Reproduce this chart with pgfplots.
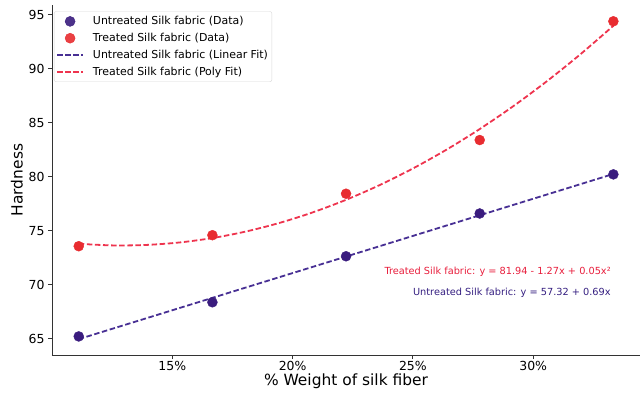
\documentclass[border=0pt]{standalone}
\usepackage{pgfplots}
\pgfplotsset{compat=1.18}
\usepackage{fontspec}
\setmainfont{DejaVu Sans}
\definecolor{pmark}{RGB}{58,28,126}
\definecolor{rmark}{RGB}{232,44,48}
\definecolor{pline}{RGB}{72,48,148}
\definecolor{rline}{RGB}{238,52,78}
\definecolor{ptext}{RGB}{52,30,128}
\definecolor{rtext}{RGB}{232,30,60}
\pgfplotsset{
  scatleg/.style={legend image code/.code={\draw[##1, only marks] plot coordinates {(13bp,0)};}},
  lineleg/.style={legend image code/.code={\draw[##1] (0,0) -- (26bp,0);}},
}
\begin{document}
\begin{tikzpicture}
\useasboundingbox (-52bp,-43bp) rectangle (592bp,355bp);
\begin{axis}[
  at={(0,0)}, anchor=south west,
  scale only axis, width=588bp, height=350bp,
  xmin=10, xmax=34.44, ymin=63.5, ymax=95.9,
  axis x line*=bottom, axis y line*=left,
  axis line style={black!80, line width=0.9bp},
  tick align=outside, major tick length=4bp,
  tick style={black!80, line width=0.8bp},
  xtick={15,20,25,30}, xticklabels={15\%,20\%,25\%,30\%},
  ytick={65,70,75,80,85,90,95},
  /pgf/number format/assume math mode=true,
  ticklabel style={font=\fontsize{12.5}{14}\selectfont},
  xticklabel style={yshift=1bp},
  xlabel={\% Weight of silk fiber}, ylabel={Hardness},
  label style={font=\fontsize{15.5}{17}\selectfont},
  xlabel style={yshift=4bp},
  ylabel style={yshift=-1bp},
  legend cell align=left,
  legend style={at={(0.0034,0.982)}, anchor=north west, draw=black!15, rounded corners=2bp,
    fill=white, fill opacity=0.9, text opacity=1, font=\fontsize{11}{13}\selectfont,
    row sep=3bp, inner xsep=2bp, inner ysep=3bp,
    /tikz/every odd column/.append style={column sep=7bp}},
]
\addplot[only marks, mark=*, mark size=5bp, color=pmark, scatleg]
 coordinates {(11.111,65.22) (16.667,68.38) (22.222,72.64) (27.778,76.60) (33.333,80.22)};
\addlegendentry{Untreated Silk fabric (Data)}
\addplot[only marks, mark=*, mark size=5bp, color=rmark, scatleg]
 coordinates {(11.111,73.57) (16.667,74.59) (22.222,78.43) (27.778,83.40) (33.333,94.39)};
\addlegendentry{Treated Silk fabric (Data)}
\addplot[no marks, color=pline, line width=1.8bp, dash pattern=on 5.5bp off 2.6bp, lineleg]
 coordinates {(11.111,64.968) (33.333,80.256)};
\addlegendentry{Untreated Silk fabric (Linear Fit)}
\addplot[no marks, smooth, color=rline, line width=1.8bp, dash pattern=on 5.5bp off 2.6bp, lineleg]
 coordinates {(11.111,73.796) (12.500,73.646) (13.889,73.685) (15.278,73.912) (16.667,74.326)
 (18.056,74.929) (19.444,75.720) (20.833,76.699) (22.222,77.866) (23.611,79.221) (25.000,80.765)
 (26.389,82.497) (27.778,84.416) (29.167,86.524) (30.556,88.820) (31.944,91.304) (33.333,93.976)};
\addlegendentry{Treated Silk fabric (Poly Fit)}
\node[anchor=east, text=rtext, font=\fontsize{9.8}{11}\selectfont, inner sep=0pt] at (axis cs:33.23,71.2) {Treated Silk fabric: y = 81.94 - 1.27x + 0.05x²};
\node[anchor=east, text=ptext, font=\fontsize{9.8}{11}\selectfont, inner sep=0pt] at (axis cs:33.23,69.26) {Untreated Silk fabric: y = 57.32 + 0.69x};
\end{axis}
\end{tikzpicture}
\end{document}
